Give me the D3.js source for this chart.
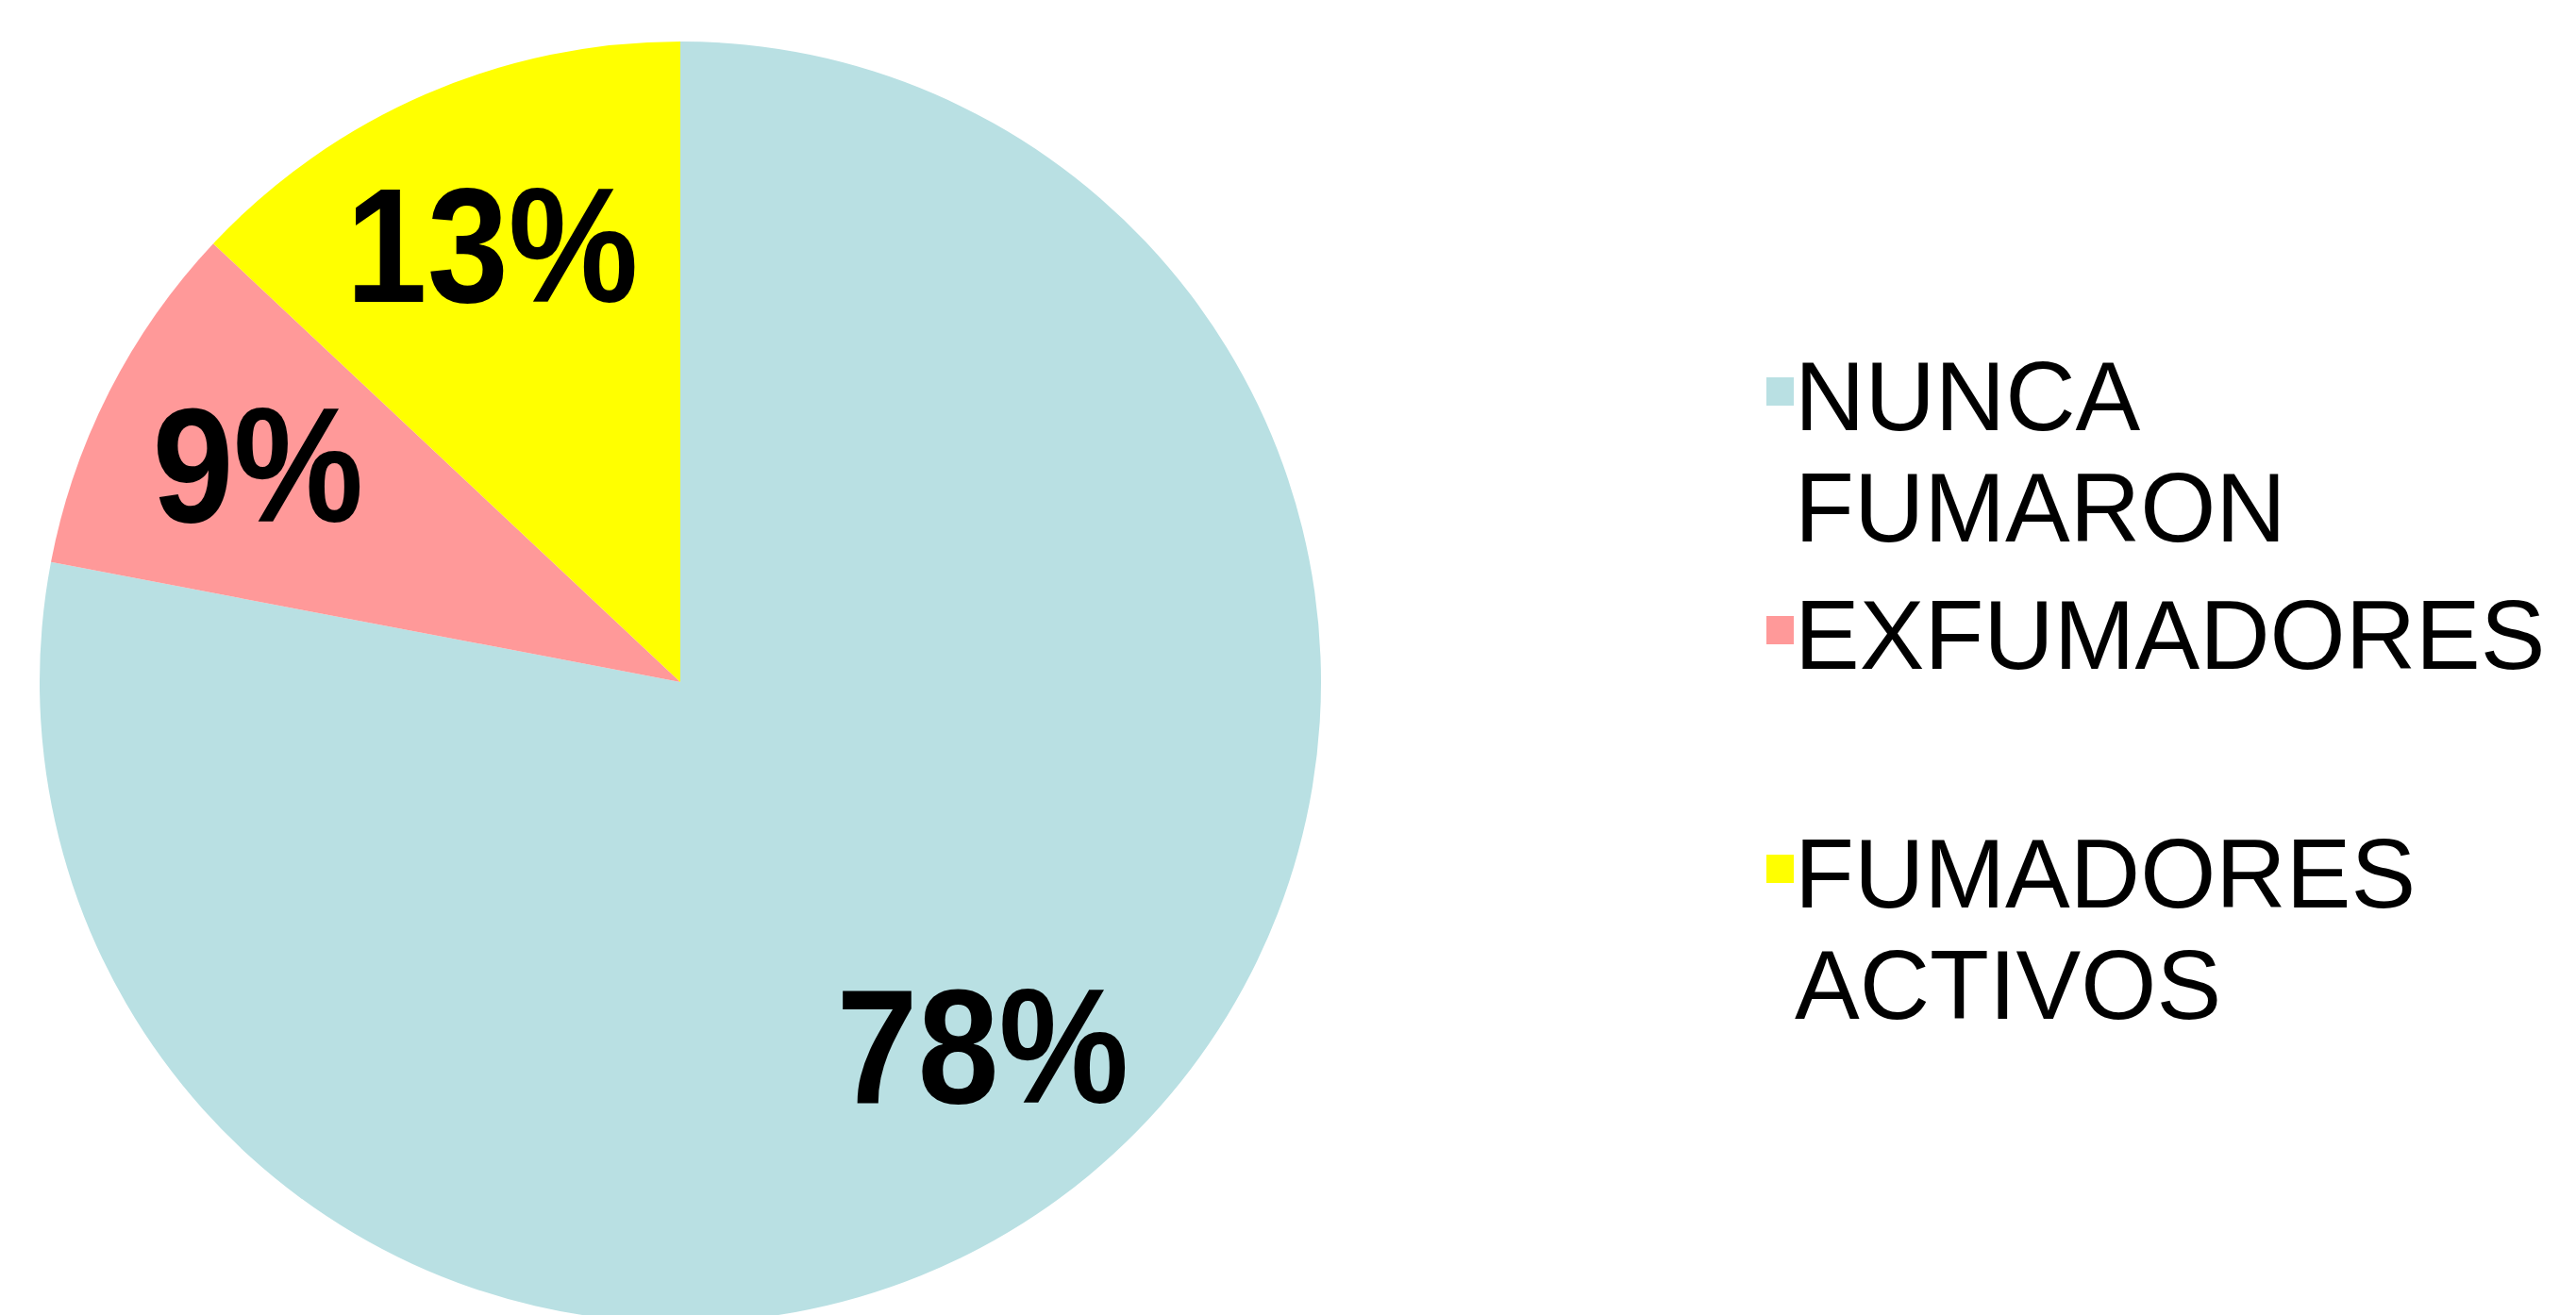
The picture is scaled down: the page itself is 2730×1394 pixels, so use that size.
<!DOCTYPE html>
<html>
<head>
<meta charset="utf-8">
<script src="https://cdn.jsdelivr.net/npm/d3@7"></script>
<style>
  body { margin: 0; background: #fff; }
  text { font-family: Arial, "Liberation Sans", Arimo, sans-serif; }
</style>
</head>
<body>
<div id="chart"></div>
<script>
// datos del grafico
var categorias = ["NUNCA FUMARON", "EXFUMADORES", "FUMADORES ACTIVOS"];
var lineasLeyenda = [["NUNCA", "FUMARON"], ["EXFUMADORES"], ["FUMADORES", "ACTIVOS"]];
var porcentajes = [78, 9, 13];
var colores = ["#B9E0E3", "#FF9999", "#FFFF00"];

function createChart()
{
    var width = 2730, height = 1394;
    var cx = 721, cy = 723, radius = 679;

    var svg = d3.select("#chart").append("svg")
      .attr("width", width)
      .attr("height", height);

    var color = d3.scaleOrdinal().domain(categorias).range(colores);

    var pie = d3.pie().sort(null).value(d => d.valor);
    var data = categorias.map((c, i) => ({ cat: c, valor: porcentajes[i] }));

    var arc = d3.arc().innerRadius(0).outerRadius(radius);
    var labelArc = d3.arc().innerRadius(radius * 0.74).outerRadius(radius * 0.74);

    var g = svg.append("g")
      .attr("transform", "translate(" + cx + "," + cy + ")");

    var slices = pie(data);

    g.selectAll("path")
      .data(slices)
      .enter().append("path")
      .attr("d", arc)
      .style("fill", d => color(d.data.cat));

    g.selectAll("text.pct")
      .data(slices)
      .enter().append("text")
      .attr("class", "pct")
      .attr("transform", d => "translate(" + labelArc.centroid(d) + ") scale(0.9,1)")
      .attr("text-anchor", "middle")
      .attr("dy", "0.34em")
      .style("font-size", "172px")
      .style("font-weight", "bold")
      .text(d => d.data.valor + "%");

    // leyenda
    var leyenda = svg.append("g")
      .attr("transform", "translate(1872,456)");

    var item = leyenda.selectAll("g")
      .data(categorias)
      .enter().append("g")
      .attr("transform", (d, i) => "translate(0," + (i * 253) + ")");

    item.append("rect")
      .attr("x", 0)
      .attr("y", -56)
      .attr("width", 29)
      .attr("height", 30)
      .style("fill", d => color(d));

    item.append("text")
      .attr("x", 30)
      .style("font-size", "103px")
      .selectAll("tspan")
      .data((d, i) => lineasLeyenda[i])
      .enter().append("tspan")
      .attr("x", 30)
      .attr("dy", (d, j) => j == 0 ? 0 : 118)
      .text(d => d);
}

createChart();
</script>
</body>
</html>
